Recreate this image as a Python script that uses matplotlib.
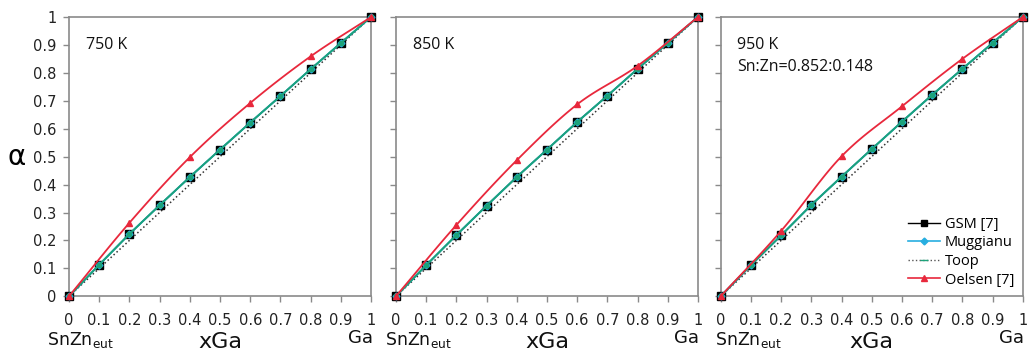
import numpy as np
import matplotlib
matplotlib.use("Agg")
import matplotlib.pyplot as plt
from matplotlib.lines import Line2D

x_ga = [0, 0.1, 0.2, 0.3, 0.4, 0.5, 0.6, 0.7, 0.8, 0.9, 1.0]
x_oelsen = [0, 0.2, 0.4, 0.6, 0.8, 1.0]
ticks = [0, 0.1, 0.2, 0.3, 0.4, 0.5, 0.6, 0.7, 0.8, 0.9, 1]
tick_labels = ['0', '0.1', '0.2', '0.3', '0.4', '0.5', '0.6', '0.7', '0.8', '0.9', '1']

temps = ['750 K', '850 K', '950 K']
gsm = [
    [0, 0.113, 0.223, 0.326, 0.427, 0.525, 0.622, 0.717, 0.813, 0.907, 1.0],
    [0, 0.111, 0.219, 0.324, 0.427, 0.525, 0.624, 0.718, 0.814, 0.907, 1.0],
    [0, 0.111, 0.218, 0.327, 0.428, 0.527, 0.625, 0.721, 0.814, 0.907, 1.0],
]
muggianu = gsm
toop = gsm
ideal = x_ga
oelsen = [
    [0, 0.263, 0.498, 0.692, 0.859, 1.0],
    [0, 0.255, 0.487, 0.687, 0.825, 1.0],
    [0, 0.234, 0.501, 0.680, 0.850, 1.0],
]


def smooth(xs, ys, n=20):
    # catmull-rom curve through the points, like excel's smoothed line
    xs = np.asarray(xs, float)
    ys = np.asarray(ys, float)
    px = np.concatenate([[2 * xs[0] - xs[1]], xs, [2 * xs[-1] - xs[-2]]])
    py = np.concatenate([[2 * ys[0] - ys[1]], ys, [2 * ys[-1] - ys[-2]]])
    outx, outy = [], []
    t = np.linspace(0, 1, n)
    for i in range(1, len(px) - 2):
        for p, out in ((px, outx), (py, outy)):
            p0, p1, p2, p3 = p[i - 1], p[i], p[i + 1], p[i + 2]
            out.extend(0.5 * (2 * p1 + (-p0 + p2) * t
                              + (2 * p0 - 5 * p1 + 4 * p2 - p3) * t ** 2
                              + (-p0 + 3 * p1 - 3 * p2 + p3) * t ** 3))
    return outx, outy


fig = plt.figure(figsize=(10.31, 3.54), dpi=100)
lefts = [0.0669, 0.384, 0.699]
snzn_off = [-0.073, -0.036, -0.02]
red = '#e8283c'
cyan = '#27aee0'
green = '#1ca37a'
spine = '#8a8a8a'

for i in range(3):
    ax = fig.add_axes([lefts[i], 0.163, 0.293, 0.789])
    ax.plot(x_ga, ideal, ':', color='#333333', lw=1.1, zorder=2)
    ax.plot(x_ga, gsm[i], '-', color='black', lw=1.0, marker='s', ms=5.5,
            mfc='black', mec='black', zorder=3)
    ax.plot(x_ga, muggianu[i], '-', color=cyan, lw=1.4, marker='D', ms=3.5,
            mfc=cyan, mec=cyan, zorder=4)
    ax.plot(x_ga, toop[i], '-', color=green, lw=1.3, marker='s', ms=3.5,
            mfc=green, mec=green, zorder=5)
    sx, sy = smooth(x_oelsen, oelsen[i])
    ax.plot(sx, sy, '-', color=red, lw=1.3, zorder=6)
    ax.plot(x_oelsen, oelsen[i], '^', color=red, ms=5, zorder=7)

    ax.set_xlim(0, 1)
    ax.set_ylim(0, 1)
    ax.set_xticks(ticks)
    ax.set_xticklabels(tick_labels)
    ax.set_yticks(ticks)
    if i == 0:
        ax.set_yticklabels(tick_labels)
    else:
        ax.set_yticklabels([])
    ax.tick_params(direction='out', length=4, width=1, colors=spine,
                   labelcolor='#222222', labelsize=10.5)
    ax.tick_params(axis='x', pad=8)
    ax.tick_params(axis='y', pad=5)
    for s in ax.spines.values():
        s.set_color(spine)
        s.set_linewidth(1.2)
    for line in ax.lines:
        line.set_clip_on(False)

    ax.text(0.055, 0.93, temps[i], transform=ax.transAxes, fontsize=11.5,
            family='Open Sans', va='top', ha='left', color='#111111')
    if i == 2:
        ax.text(0.055, 0.85, 'Sn:Zn=0.852:0.148', transform=ax.transAxes,
                fontsize=11.5, family='Open Sans', va='top', ha='left',
                color='#111111')

    ax.text(snzn_off[i], -0.155, r'SnZn$_{\mathregular{eut}}$', transform=ax.transAxes,
            fontsize=12.5, va='center', ha='left', color='#111111')
    ax.text(0.5, -0.165, 'xGa', transform=ax.transAxes, fontsize=16,
            va='center', ha='center', color='#111111')
    ax.text(1.005, -0.148, 'Ga', transform=ax.transAxes, fontsize=13,
            va='center', ha='right', color='#111111')

    if i == 0:
        ax.set_ylabel('α', fontsize=20, rotation=0, labelpad=12, va='center')

    if i == 2:
        handles = [
            Line2D([], [], color='black', marker='s', ms=5, lw=1),
            Line2D([], [], color=cyan, marker='D', ms=3.5, lw=1.2),
            Line2D([], [], color='#555555', ls=':', marker='_', ms=6, mec=green, lw=1),
            Line2D([], [], color=red, marker='^', ms=5, lw=1.2),
        ]
        ax.legend(handles, ['GSM [7]', 'Muggianu', 'Toop', 'Oelsen [7]'],
                  loc='lower right', frameon=False,
                  handlelength=2.2, handletextpad=0.3, labelspacing=0.25,
                  borderaxespad=0.2, prop={'family': 'Open Sans', 'size': 10.5})

fig.savefig('out.png', dpi=100)
